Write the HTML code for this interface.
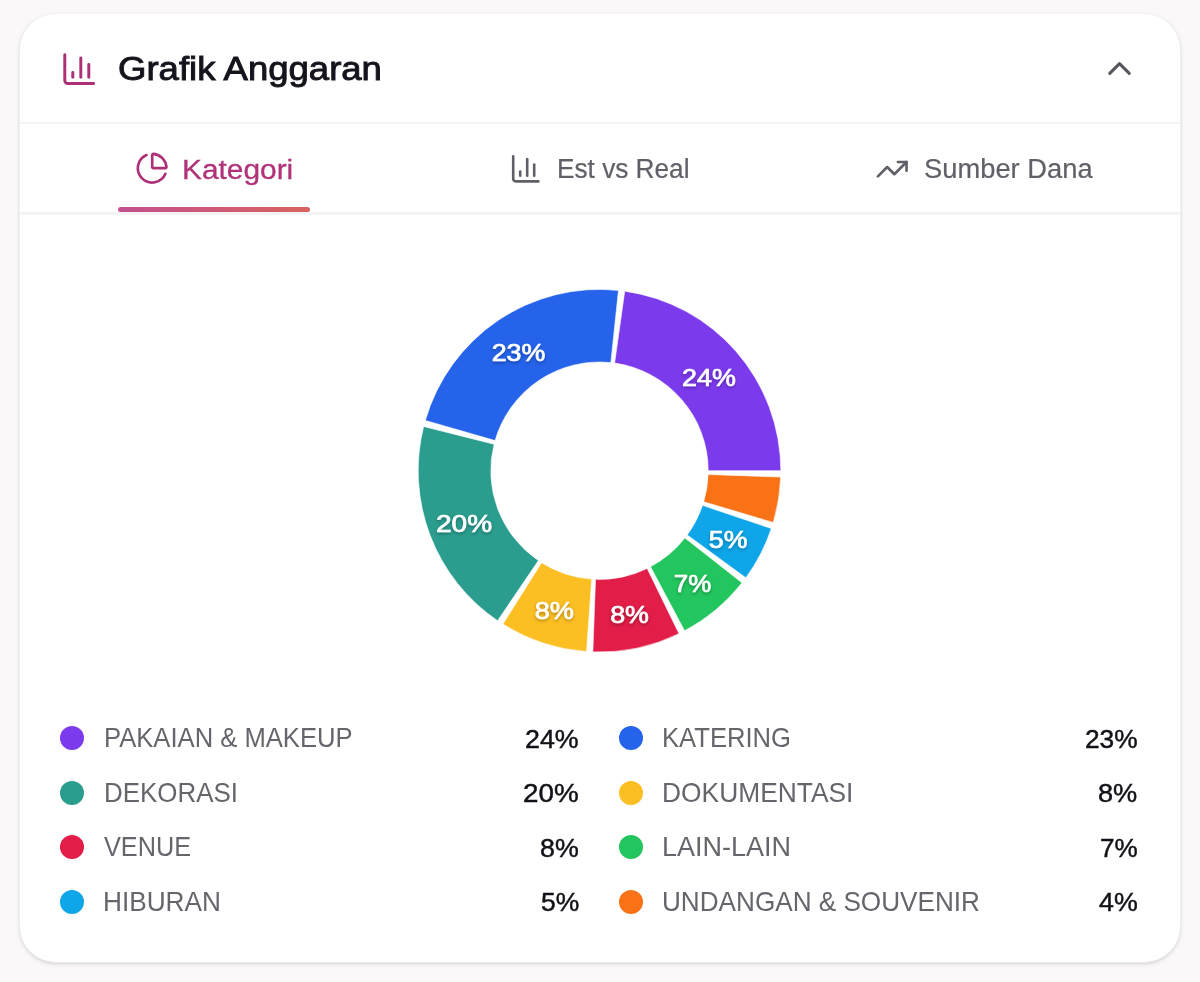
<!DOCTYPE html>
<html lang="id">
<head>
<meta charset="utf-8">
<title>Grafik Anggaran</title>
<style>
  * { box-sizing: border-box; margin: 0; padding: 0; }
  html, body { width: 1200px; height: 982px; overflow: hidden; }
  body {
    background: #faf8f9;
    font-family: "Liberation Sans", sans-serif;
    color: #111118;
    position: relative;
  }
  .card {
    position: absolute; left: 18.8px; top: 12.8px; width: 1162.4px; height: 949.9px;
    background: #ffffff; border: 1.2px solid #f1f0f1; border-top-color: #f6f4f5; border-bottom-color: #eceaeb; border-radius: 37px;
    box-shadow: 0 1px 2px rgba(30, 20, 30, 0.07), 0 2px 4px rgba(30, 20, 30, 0.08), 0 0 2px rgba(30,20,30,0.03);
  }
  .hr { position: absolute; left: 20px; width: 1160px; height: 2.6px; background: #f5f4f5; }
  .ico { position: absolute; fill: none; stroke-width: 1.85; stroke-linecap: round; stroke-linejoin: round; }
  .pink { stroke: #ad3077; }
  .gray { stroke: #5f5f68; }
  .t {
    position: absolute; white-space: nowrap; line-height: 1; display: block;
    transform-origin: 0 50%;
  }
  .title { font-size: 34px; color: #15141c; -webkit-text-stroke: 0.95px #15141c; }
  .tabt { font-size: 27px; color: #606069; -webkit-text-stroke: 0.2px #606069; }
  .tabt.act { color: #b0337a; -webkit-text-stroke: 0.3px #b0337a; }
  .name { font-size: 28.5px; color: #66656c; }
  .pct { font-size: 25px; color: #121118; -webkit-text-stroke: 0.45px #121118; }
  .uline {
    position: absolute; left: 118px; top: 207px; width: 192px; height: 5px; border-radius: 3px;
    background: linear-gradient(90deg, #c4508e, #d9635f);
  }
  .chart { position: absolute; left: 0; top: 0; }
  .chart text {
    font-family: "Liberation Sans", sans-serif;
    font-size: 24px; font-weight: 400; fill: #fff; stroke: #fff; stroke-width: 0.7px;
    text-anchor: middle; dominant-baseline: central;
  }
  ul { list-style: none; }
  h1, b { font-weight: 400; }
  .dot { position: absolute; width: 24px; height: 24px; border-radius: 50%; display: block; }
</style>
</head>
<body>
<main>
<section class="card"></section>

<header>
  <svg class="ico pink" style="left:59.9px;top:49.5px" width="38.4" height="38.4" viewBox="0 0 24 24"><path d="M3 3v16a2 2 0 0 0 2 2h16"/><path d="M18 17V9"/><path d="M13 17V5"/><path d="M8 17v-3"/></svg>
  <h1 class="t title" id="title" style="left:118.00px;top:51.00px;transform:scaleX(1.0741)">Grafik Anggaran</h1>
  <svg class="ico gray" style="left:1099.9px;top:48.8px;stroke:#56565f" width="39" height="39" viewBox="0 0 24 24"><path d="m18 15-6-6-6 6"/></svg>
</header>
<div class="hr" style="top:121.5px"></div>

<nav>
  <div class="tab active">
    <svg class="ico pink" style="left:134.6px;top:150.7px" width="34.4" height="34.4" viewBox="0 0 24 24"><path d="M21 12c.552 0 1.005-.449.950-.998a10 10 0 0 0-8.953-8.951c-.550-.055-.998.398-.998.950v8a1 1 0 0 0 1 1z"/><path d="M21.210 15.890A10 10 0 1 1 8 2.830"/></svg>
    <span class="t tabt act" id="tab1" style="left:181.50px;top:156.50px;transform:scaleX(1.1059)">Kategori</span>
    <div class="uline"></div>
  </div>
  <div class="tab">
    <svg class="ico gray" style="left:509.2px;top:152.2px" width="33.6" height="33.6" viewBox="0 0 24 24"><path d="M3 3v16a2 2 0 0 0 2 2h16"/><path d="M18 17V9"/><path d="M13 17V5"/><path d="M8 17v-3"/></svg>
    <span class="t tabt" id="tab2" style="left:557.40px;top:156.00px;transform:scaleX(0.9704)">Est vs Real</span>
  </div>
  <div class="tab">
    <svg class="ico gray" style="left:875px;top:151.5px" width="34.4" height="34.4" viewBox="0 0 24 24"><path d="M22 7 13.500 15.500 8.500 10.500 2 17"/><path d="M16 7h6v6"/></svg>
    <span class="t tabt" id="tab3" style="left:924.00px;top:156.10px;transform:scaleX(1.0120)">Sumber Dana</span>
  </div>
</nav>
<div class="hr" style="top:212.4px"></div>

<figure>
<svg class="chart" width="1200" height="982" viewBox="0 0 1200 982">
  <defs>
    <filter id="ts" x="-20%" y="-30%" width="140%" height="170%">
      <feDropShadow dx="0" dy="1.5" stdDeviation="1.6" flood-color="#000" flood-opacity="0.32"/>
    </filter>
  </defs>
  <g stroke="#fff" stroke-width="0.6">
    <path d="M780.80,470.70A181.3,181.3,0,0,0,624.73,291.16L614.63,363.06A108.7,108.7,0,0,1,708.20,470.70Z" fill="#7c3aed"/>
    <path d="M618.45,290.39A181.3,181.3,0,0,0,425.31,420.42L495.06,440.56A108.7,108.7,0,0,1,610.86,362.60Z" fill="#2563eb"/>
    <path d="M423.66,426.53A181.3,181.3,0,0,0,497.59,620.65L538.40,560.60A108.7,108.7,0,0,1,494.07,444.22Z" fill="#2a9d8f"/>
    <path d="M502.89,624.11A181.3,181.3,0,0,0,586.54,651.54L591.73,579.12A108.7,108.7,0,0,1,541.58,562.68Z" fill="#fbbf24"/>
    <path d="M592.86,651.88A181.3,181.3,0,0,0,678.98,633.65L647.15,568.40A108.7,108.7,0,0,1,595.52,579.33Z" fill="#e11d48"/>
    <path d="M684.62,630.78A181.3,181.3,0,0,0,741.98,582.82L684.92,537.92A108.7,108.7,0,0,1,650.53,566.68Z" fill="#22c55e"/>
    <path d="M745.80,577.78A181.3,181.3,0,0,0,771.33,528.53L702.52,505.37A108.7,108.7,0,0,1,687.22,534.90Z" fill="#0ea5e9"/>
    <path d="M773.24,522.50A181.3,181.3,0,0,0,780.69,477.03L708.13,474.49A108.7,108.7,0,0,1,703.67,501.75Z" fill="#f97316"/>
  </g>
  <g filter="url(#ts)">
    <text transform="translate(708.9,377.3) scale(1.12,1)">24%</text>
    <text transform="translate(518.5,352.1) scale(1.117,1)">23%</text>
    <text transform="translate(464.0,524.0) scale(1.168,1)">20%</text>
    <text transform="translate(554.3,610.2) scale(1.132,1)">8%</text>
    <text transform="translate(629.5,614.3) scale(1.118,1)">8%</text>
    <text transform="translate(692.5,583.6) scale(1.08,1)">7%</text>
    <text transform="translate(728.2,539.1) scale(1.118,1)">5%</text>
  </g>
</svg>

</figure>

<ul class="legend">
  <li><i class="dot" style="left:60.0px;top:726.0px;background:#7c3aed"></i><span class="t name" id="l1" style="left:103.50px;top:723.10px;transform:scaleX(0.8987)">PAKAIAN &amp; MAKEUP</span><b class="t pct" id="p1" style="left:524.80px;top:726.80px;transform:scaleX(1.0716)">24%</b></li>
  <li><i class="dot" style="left:618.7px;top:726.0px;background:#2563eb"></i><span class="t name" id="r1" style="left:662.00px;top:723.10px;transform:scaleX(0.8988)">KATERING</span><b class="t pct" id="q1" style="left:1084.60px;top:726.80px;transform:scaleX(1.0516)">23%</b></li>
  <li><i class="dot" style="left:60.0px;top:780.6px;background:#2a9d8f"></i><span class="t name" id="l2" style="left:104.00px;top:778.10px;transform:scaleX(0.9091)">DEKORASI</span><b class="t pct" id="p2" style="left:522.80px;top:781.20px;transform:scaleX(1.1125)">20%</b></li>
  <li><i class="dot" style="left:618.7px;top:780.6px;background:#fbbf24"></i><span class="t name" id="r2" style="left:662.00px;top:778.10px;transform:scaleX(0.9252)">DOKUMENTASI</span><b class="t pct" id="q2" style="left:1098.00px;top:781.20px;transform:scaleX(1.0871)">8%</b></li>
  <li><i class="dot" style="left:60.0px;top:835.0px;background:#e11d48"></i><span class="t name" id="l3" style="left:104.00px;top:832.10px;transform:scaleX(0.8870)">VENUE</span><b class="t pct" id="p3" style="left:539.60px;top:836.20px;transform:scaleX(1.0725)">8%</b></li>
  <li><i class="dot" style="left:618.7px;top:835.0px;background:#22c55e"></i><span class="t name" id="r3" style="left:662.00px;top:832.10px;transform:scaleX(0.9472)">LAIN-LAIN</span><b class="t pct" id="q3" style="left:1100.00px;top:836.20px;transform:scaleX(1.0437)">7%</b></li>
  <li><i class="dot" style="left:60.0px;top:889.6px;background:#0ea5e9"></i><span class="t name" id="l4" style="left:103.40px;top:887.10px;transform:scaleX(0.9195)">HIBURAN</span><b class="t pct" id="p4" style="left:540.60px;top:890.40px;transform:scaleX(1.0581)">5%</b></li>
  <li><i class="dot" style="left:618.7px;top:889.6px;background:#f97316"></i><span class="t name" id="r4" style="left:662.00px;top:887.10px;transform:scaleX(0.9166)">UNDANGAN &amp; SOUVENIR</span><b class="t pct" id="q4" style="left:1099.00px;top:890.40px;transform:scaleX(1.0710)">4%</b></li>
</ul>
</main>
</body>
</html>
